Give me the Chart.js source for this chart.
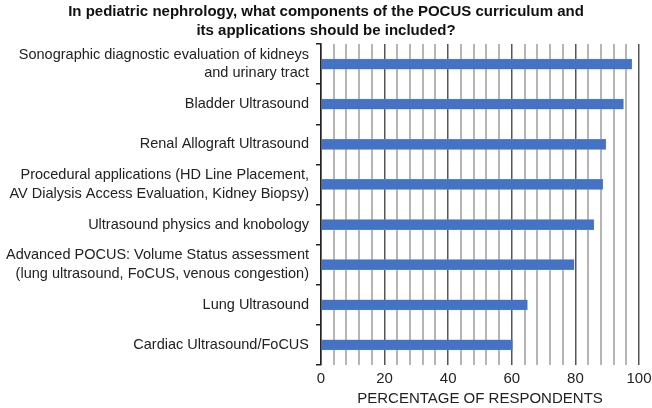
<!DOCTYPE html>
<html lang="en">
<head>
  <meta charset="UTF-8">
  <title>POCUS curriculum</title>
  <script src="https://cdn.jsdelivr.net/npm/chart.js"></script>
  <style>
    body {
      margin: 0;
      background: #fff;
    }
    .wrap {
      width: 652px;
      height: 408px;
    }
  </style>
</head>
<body>
  <div class="wrap">
    <canvas id="pocusChart" width="652" height="408"></canvas>
  </div>

  <script>
  const titleLines = [
    "In pediatric nephrology, what components of the POCUS curriculum and",
    "its applications should be included?"
  ];
  const categories = [
    ["Sonographic diagnostic evaluation of kidneys", "and urinary tract"],
    "Bladder Ultrasound",
    "Renal Allograft Ultrasound",
    ["Procedural applications (HD Line Placement,", "AV Dialysis Access Evaluation, Kidney Biopsy)"],
    "Ultrasound physics and knobology",
    ["Advanced POCUS: Volume Status assessment", "(lung ultrasound, FoCUS, venous congestion)"],
    "Lung Ultrasound",
    "Cardiac Ultrasound/FoCUS"
  ];
  const percentages = [97.7, 95.1, 89.6, 88.6, 85.8, 79.6, 64.9, 60.2];
  const xTickLabels = [0, 20, 40, 60, 80, 100];
  const xAxisTitle = "PERCENTAGE OF RESPONDENTS";

  const font = "'Liberation Sans', Arial, Helvetica, sans-serif";

  const ctx = document.getElementById("pocusChart").getContext("2d");
  new Chart(ctx, {
    type: "bar",
    data: {
      labels: categories,
      datasets: [{
        data: percentages,
        backgroundColor: "#4472c4",
        borderColor: "#6a8fd6",
        borderWidth: 0.5,
        barThickness: 10
      }]
    },
    options: {
      indexAxis: "y",
      responsive: false,
      animation: false,
      layout: { padding: 0 },
      plugins: {
        legend: { display: false },
        tooltip: { enabled: false },
        title: {
          display: true,
          text: titleLines,
          color: "#111",
          font: { family: font, size: 15, weight: "bold", lineHeight: 1.3 },
          padding: { top: 2, bottom: 3 }
        }
      },
      scales: {
        x: {
          min: 0,
          max: 100,
          afterFit: function(scale) {
            scale.height = 43;
            scale.paddingRight = 13;
          },
          border: { display: false },
          grid: {
            drawTicks: false,
            color: function(c) { return c.tick.value % 20 === 0 ? "#555" : "#b5b5b5"; },
            lineWidth: function(c) { return c.tick.value % 20 === 0 ? 1.5 : 2; }
          },
          ticks: {
            stepSize: 4,
            autoSkip: false,
            maxRotation: 0,
            minRotation: 0,
            padding: 5,
            color: "#222",
            font: { family: font, size: 15 },
            callback: function(v) { return xTickLabels.includes(v) ? v : ""; }
          },
          title: {
            display: true,
            text: xAxisTitle,
            color: "#222",
            font: { family: font, size: 15 },
            padding: { top: 0, bottom: 0 }
          }
        },
        y: {
          afterFit: function(scale) { scale.width = 321; },
          border: { display: true, color: "#222", width: 1.5 },
          grid: {
            offset: true,
            drawOnChartArea: false,
            tickLength: 5,
            color: "#222",
            lineWidth: 1.5
          },
          ticks: {
            padding: 7,
            color: "#222",
            font: { family: font, size: 14.5, lineHeight: 1.27 }
          }
        }
      }
    }
  });
  </script>
</body>
</html>
